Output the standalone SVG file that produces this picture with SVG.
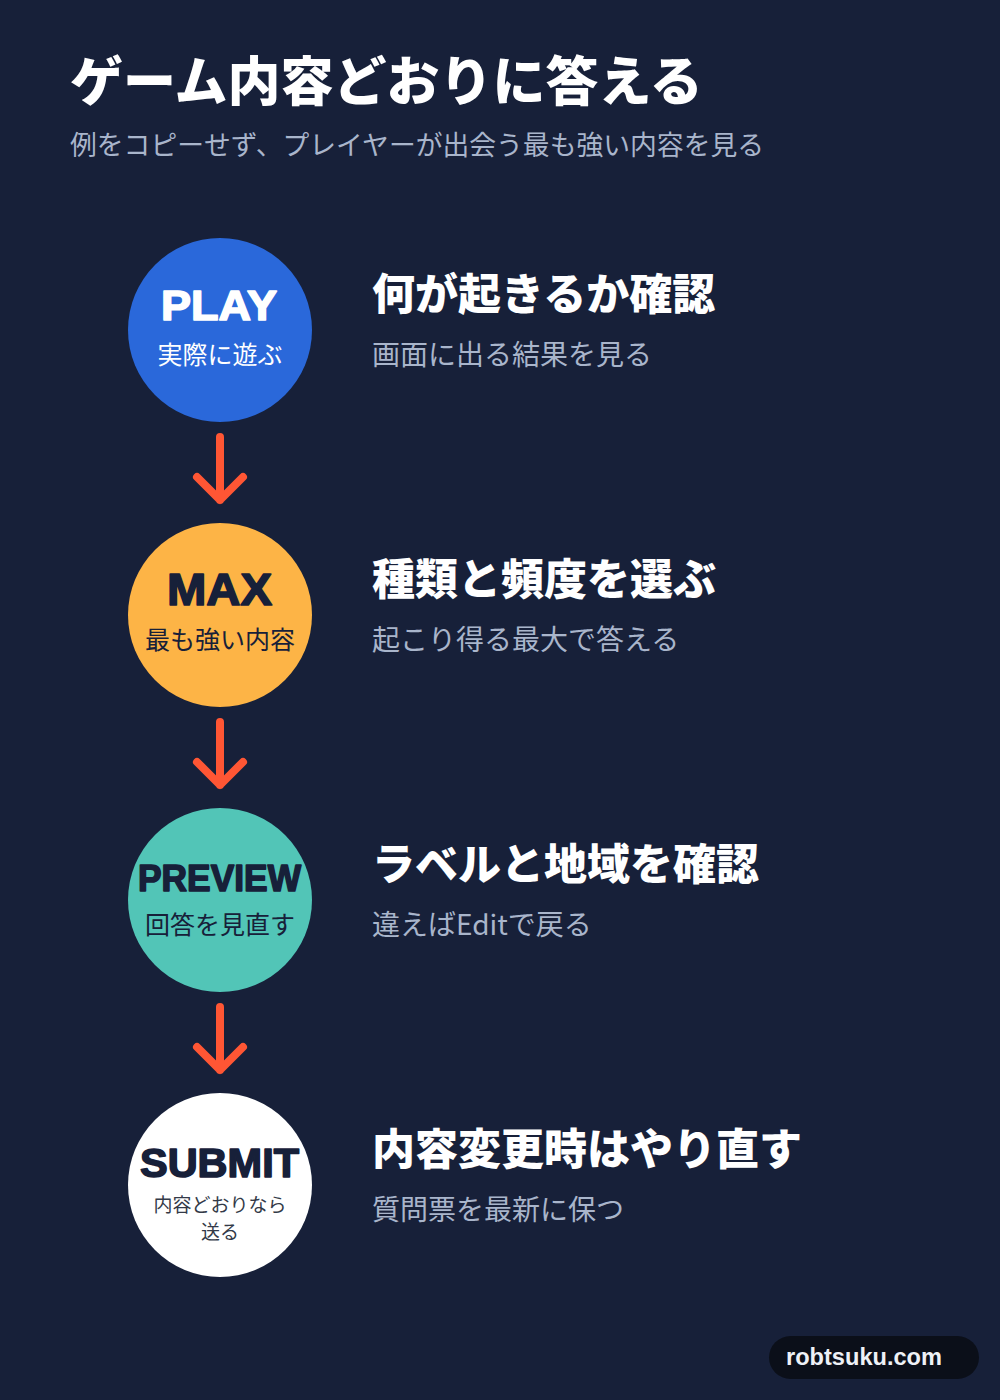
<svg xmlns="http://www.w3.org/2000/svg" width="1000" height="1400" viewBox="0 0 1000 1400">
<defs>
<style>
.h{font-family:"Noto Sans CJK JP",sans-serif;font-weight:900;fill:#ffffff}
.sub{font-family:"Noto Sans CJK JP",sans-serif;font-weight:400;fill:#a9b5cb}
.lab{font-family:"Liberation Sans",Arial,sans-serif;font-weight:700;stroke-width:1.6;stroke-linejoin:round}
.cs{font-family:"Noto Sans CJK JP",sans-serif;font-weight:400;text-anchor:middle}
.arr{fill:none;stroke:#ff5634;stroke-width:8;stroke-linecap:round;stroke-linejoin:round}
</style>
</defs>
<rect width="1000" height="1400" fill="#172039"/>
<text x="70" y="101" class="h" font-size="53">ゲーム内容どおりに答える</text>
<text x="70" y="155" class="sub" font-size="26.8">例をコピーせず、プレイヤーが出会う最も強い内容を見る</text>

<g id="connectors">
<path class="arr" d="M220 437V500M197 477L220 500L243 477"/>
<path class="arr" d="M220 722V785M197 762L220 785L243 762"/>
<path class="arr" d="M220 1007V1070M197 1047L220 1070L243 1047"/>
</g>

<g id="play">
<circle cx="220" cy="330" r="92" fill="#2a68da"/>
<text x="161" y="320" class="lab" font-size="42" fill="#ffffff" stroke="#ffffff" textLength="116" lengthAdjust="spacingAndGlyphs">PLAY</text>
<text x="220" y="364" class="cs" font-size="25" fill="#ffffff">実際に遊ぶ</text>
<text x="372" y="310" class="h" font-size="43">何が起きるか確認</text>
<text x="372" y="365" class="sub" font-size="28">画面に出る結果を見る</text>
</g>

<g id="max">
<circle cx="220" cy="615" r="92" fill="#fdb446"/>
<text x="167" y="605" class="lab" font-size="45" fill="#172039" stroke="#172039" textLength="105" lengthAdjust="spacingAndGlyphs">MAX</text>
<text x="220" y="649" class="cs" font-size="25" fill="#172039">最も強い内容</text>
<text x="372" y="595" class="h" font-size="43">種類と頻度を選ぶ</text>
<text x="372" y="650" class="sub" font-size="28">起こり得る最大で答える</text>
</g>

<g id="preview">
<circle cx="220" cy="900" r="92" fill="#52c5b7"/>
<text x="138" y="891" class="lab" font-size="37" fill="#172039" stroke="#172039" textLength="163" lengthAdjust="spacingAndGlyphs">PREVIEW</text>
<text x="220" y="934" class="cs" font-size="25" fill="#172039">回答を見直す</text>
<text x="372" y="880" class="h" font-size="43">ラベルと地域を確認</text>
<text x="372" y="935" class="sub" font-size="28">違えばEditで戻る</text>
</g>

<g id="submit">
<circle cx="220" cy="1185" r="92" fill="#ffffff"/>
<text x="140" y="1177" class="lab" font-size="41" fill="#172039" stroke="#172039" textLength="159" lengthAdjust="spacingAndGlyphs">SUBMIT</text>
<text x="220" y="1212" class="cs" font-size="19" fill="#333a48">内容どおりなら</text>
<text x="220" y="1239" class="cs" font-size="19" fill="#333a48">送る</text>
<text x="372" y="1165" class="h" font-size="43">内容変更時はやり直す</text>
<text x="372" y="1220" class="sub" font-size="28">質問票を最新に保つ</text>
</g>

<g id="badge">
<rect x="769" y="1336" width="210" height="43" rx="21.5" fill="#0b0f19"/>
<text x="786" y="1365" font-family="Liberation Sans,Arial,sans-serif" font-weight="700" font-size="23.5" fill="#eef1f6" textLength="156" lengthAdjust="spacingAndGlyphs">robtsuku.com</text>
</g>
</svg>
